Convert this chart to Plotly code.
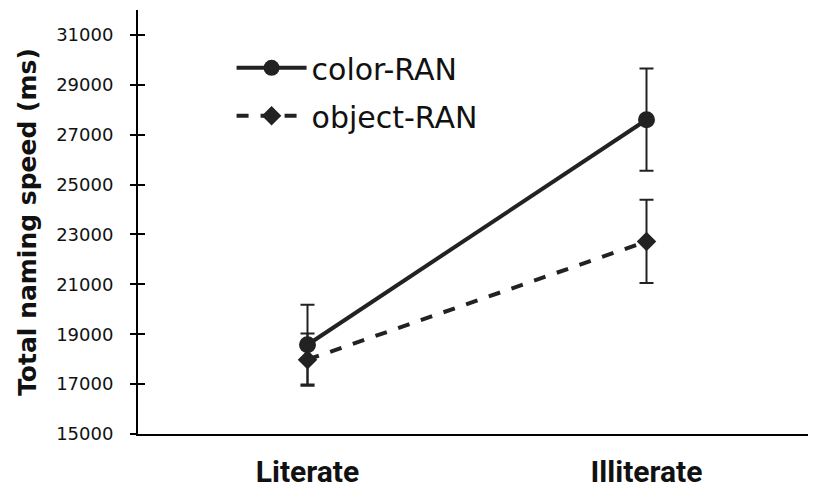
import plotly.graph_objects as go

groups = ["Literate", "Illiterate"]
color_ran = [18580, 27600]
color_err = [1600, 2050]
object_ran = [17980, 22720]
object_err = [1050, 1670]
yticks = [15000, 17000, 19000, 21000, 23000, 25000, 27000, 29000, 31000]
yticktext = ["15000", "17000", "19000", "21000", "23000", "25000", "27000", "29000", "31000"]

ink = "#222222"
txt = "#111111"
bold_font = "Roboto, Arial, sans-serif"
plain_font = "DejaVu Sans, Arial, sans-serif"

fig = go.Figure()
fig.add_trace(go.Scatter(
    x=groups, y=color_ran, name="color-RAN", mode="lines+markers",
    line=dict(color=ink, width=4),
    marker=dict(symbol="circle", size=17, color=ink),
    error_y=dict(type="data", array=color_err, color=ink, thickness=2, width=7),
    legendgroup="a",
))
fig.add_trace(go.Scatter(
    x=groups, y=object_ran, name="object-RAN", mode="lines+markers",
    line=dict(color=ink, width=4, dash="dash"),
    marker=dict(symbol="diamond", size=15, color=ink),
    error_y=dict(type="data", array=object_err, color=ink, thickness=2, width=7),
    legendgroup="b",
))
# helper traces so the overlay axes (tick halves) are drawn
fig.add_trace(go.Scatter(x=groups, y=[None, None], yaxis="y2", mode="markers",
                         showlegend=False, hoverinfo="skip"))
fig.add_trace(go.Scatter(x=groups, y=[None, None], yaxis="y3", mode="markers",
                         showlegend=False, hoverinfo="skip"))

fig.update_layout(
    width=808, height=480,
    margin=dict(l=130, r=0, t=2, b=54),
    paper_bgcolor="white", plot_bgcolor="white",
    font=dict(family=plain_font, color=txt),
    showlegend=True,
    legend=dict(x=0.138, y=0.925, xanchor="left", yanchor="top",
                font=dict(size=30, family=plain_font, color=txt),
                itemwidth=70, tracegroupgap=6, bgcolor="rgba(0,0,0,0)"),
    xaxis=dict(
        range=[-0.5, 1.5], showgrid=False, zeroline=False, automargin=False,
        showline=True, linecolor="black", linewidth=2,
        ticks="", tickfont=dict(size=30, family=bold_font, color=txt, weight="bold"),
        ticklabelstandoff=10,
    ),
    yaxis=dict(
        range=[15000, 32000], tickvals=yticks, ticktext=yticktext,
        showgrid=False, zeroline=False, automargin=False,
        showline=True, linecolor="black", linewidth=2,
        ticks="outside", ticklen=19, tickwidth=2, tickcolor="rgba(0,0,0,0)",
        tickfont=dict(size=18, family=plain_font, color=txt),
        title=dict(text="Total naming speed (ms)", standoff=12,
                   font=dict(size=25, family=plain_font, color=txt, weight="bold")),
    ),
    yaxis2=dict(
        overlaying="y", side="left", range=[15000, 32000], tickvals=yticks,
        showgrid=False, zeroline=False, showline=False, showticklabels=False,
        ticks="inside", ticklen=7, tickwidth=2, tickcolor="black",
    ),
    yaxis3=dict(
        overlaying="y", side="left", range=[15000, 32000], tickvals=yticks,
        showgrid=False, zeroline=False, showline=False, showticklabels=False,
        ticks="outside", ticklen=7, tickwidth=2, tickcolor="black",
    ),
)

fig.write_html("out.html")
